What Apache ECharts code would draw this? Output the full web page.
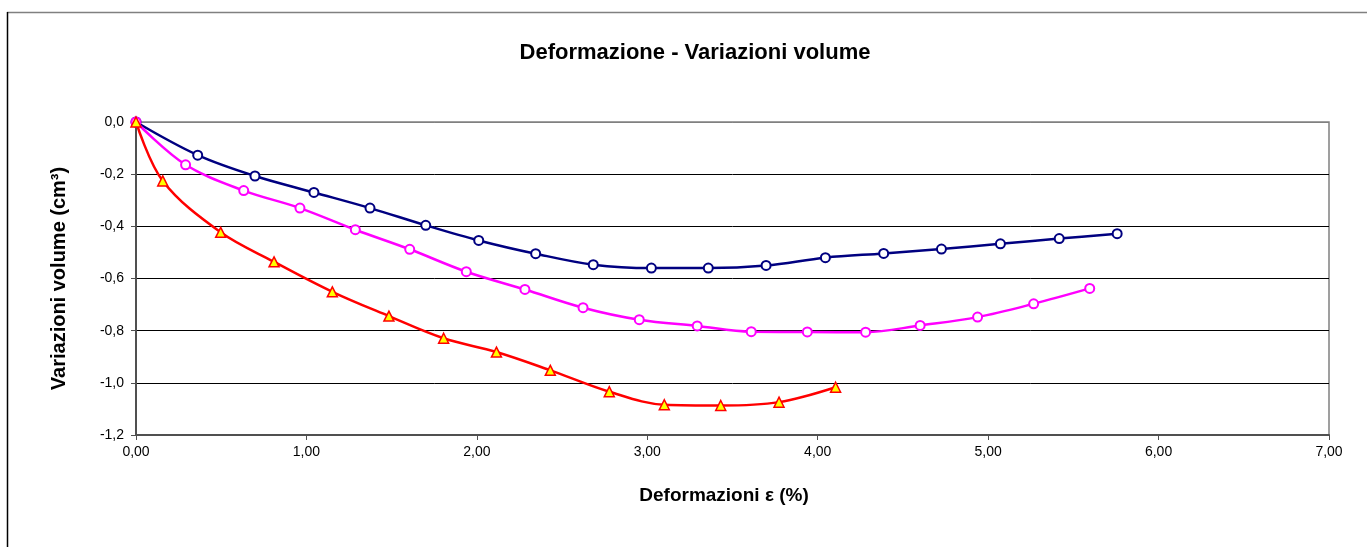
<!DOCTYPE html>
<html>
<head>
<meta charset="utf-8">
<script src="https://cdn.jsdelivr.net/npm/echarts@6/dist/echarts.min.js"></script>
<style>
  html, body { margin: 0; padding: 0; background: #fff; }
  #chart { width: 1367px; height: 547px; }
</style>
</head>
<body>
<div id="chart"></div>
<script>
// Deformation (%) vs. volume change (cm³) for three specimens
const blueX = [0, 0.362, 0.698, 1.044, 1.373, 1.700, 2.011, 2.345, 2.683, 3.024, 3.358, 3.697, 4.045, 4.387, 4.726, 5.072, 5.417, 5.757];
const blueY = [0, -0.127, -0.207, -0.270, -0.330, -0.396, -0.454, -0.505, -0.547, -0.560, -0.560, -0.550, -0.520, -0.504, -0.487, -0.467, -0.447, -0.428];

const pinkX = [0, 0.291, 0.632, 0.962, 1.287, 1.606, 1.938, 2.282, 2.623, 2.953, 3.293, 3.610, 3.939, 4.281, 4.601, 4.938, 5.267, 5.596];
const pinkY = [0, -0.164, -0.263, -0.330, -0.413, -0.488, -0.574, -0.642, -0.712, -0.758, -0.782, -0.804, -0.805, -0.806, -0.780, -0.748, -0.697, -0.638];

const redX = [0, 0.157, 0.497, 0.810, 1.152, 1.484, 1.805, 2.115, 2.431, 2.777, 3.100, 3.431, 3.773, 4.105];
const redY = [0, -0.226, -0.423, -0.536, -0.651, -0.744, -0.829, -0.882, -0.952, -1.034, -1.084, -1.087, -1.074, -1.017];

const titleText = 'Deformazione - Variazioni volume';
const xName = 'Deformazioni ε (%)';
const yName = 'Variazioni volume (cm³)';

function pairs(xs, ys) { return xs.map((x, i) => [x, ys[i]]); }

const font = 'Arial, "Liberation Sans", sans-serif';
const chart = echarts.init(document.getElementById('chart'));

chart.setOption({
  animation: false,
  backgroundColor: '#fff',
  title: {
    text: titleText,
    left: 690, top: 37, textAlign: 'center',
    textStyle: { fontFamily: font, fontWeight: 'bold', fontSize: 22, color: '#000' }
  },
  graphic: [
    { type: 'line', shape: { x1: 7, y1: 12.5, x2: 1367, y2: 12.5 }, style: { stroke: '#808080', lineWidth: 1.5 }, silent: true },
    { type: 'line', shape: { x1: 7.5, y1: 12, x2: 7.5, y2: 547 }, style: { stroke: '#000', lineWidth: 1.5 }, silent: true }
  ],
  grid: {
    left: 136, right: 38, top: 122, bottom: 112,
    show: true, borderColor: '#808080', borderWidth: 1.5, backgroundColor: '#fff'
  },
  xAxis: {
    type: 'value', min: 0, max: 7, interval: 1,
    name: xName, nameLocation: 'middle', nameGap: 51,
    nameTextStyle: { fontFamily: font, fontWeight: 'bold', fontSize: 19, color: '#000', padding: [0, 17, 0, 0] },
    axisLine: { show: true, onZero: false, lineStyle: { color: '#505050', width: 2 } },
    axisTick: { show: true, length: 5, lineStyle: { color: '#505050', width: 1 } },
    axisLabel: { margin: 10, fontFamily: font, fontSize: 14, color: '#000',
      formatter: v => v.toFixed(2).replace('.', ',') },
    splitLine: { show: false }
  },
  yAxis: {
    type: 'value', min: -1.2, max: 0, interval: 0.2,
    name: yName, nameLocation: 'middle', nameGap: 67,
    nameTextStyle: { fontFamily: font, fontWeight: 'bold', fontSize: 20, color: '#000' },
    axisLine: { show: true, onZero: false, lineStyle: { color: '#505050', width: 2 } },
    axisTick: { show: true, length: 5, lineStyle: { color: '#505050', width: 1 } },
    axisLabel: { margin: 12, fontFamily: font, fontSize: 14, color: '#000',
      formatter: v => v.toFixed(1).replace('.', ',') },
    splitLine: { show: true, lineStyle: { color: ['#000', '#000', '#000', '#000', '#000', '#000', '#808080'], width: 1 } }
  },
  series: [
    {
      type: 'line', data: pairs(blueX, blueY), smooth: 0.35,
      symbol: 'circle', symbolSize: 9, showAllSymbol: true,
      lineStyle: { color: '#000080', width: 2.5 },
      itemStyle: { color: '#fff', borderColor: '#000080', borderWidth: 2 }
    },
    {
      type: 'line', data: pairs(pinkX, pinkY), smooth: 0.35,
      symbol: 'circle', symbolSize: 9, showAllSymbol: true,
      lineStyle: { color: '#ff00ff', width: 2.5 },
      itemStyle: { color: '#fff', borderColor: '#ff00ff', borderWidth: 2 }
    },
    {
      type: 'line', data: pairs(redX, redY), smooth: 0.35,
      symbol: 'triangle', symbolSize: 10, showAllSymbol: true,
      lineStyle: { color: '#ff0000', width: 2.5 },
      itemStyle: { color: '#ffff00', borderColor: '#ff0000', borderWidth: 1.5 }
    }
  ]
});
</script>
</body>
</html>
